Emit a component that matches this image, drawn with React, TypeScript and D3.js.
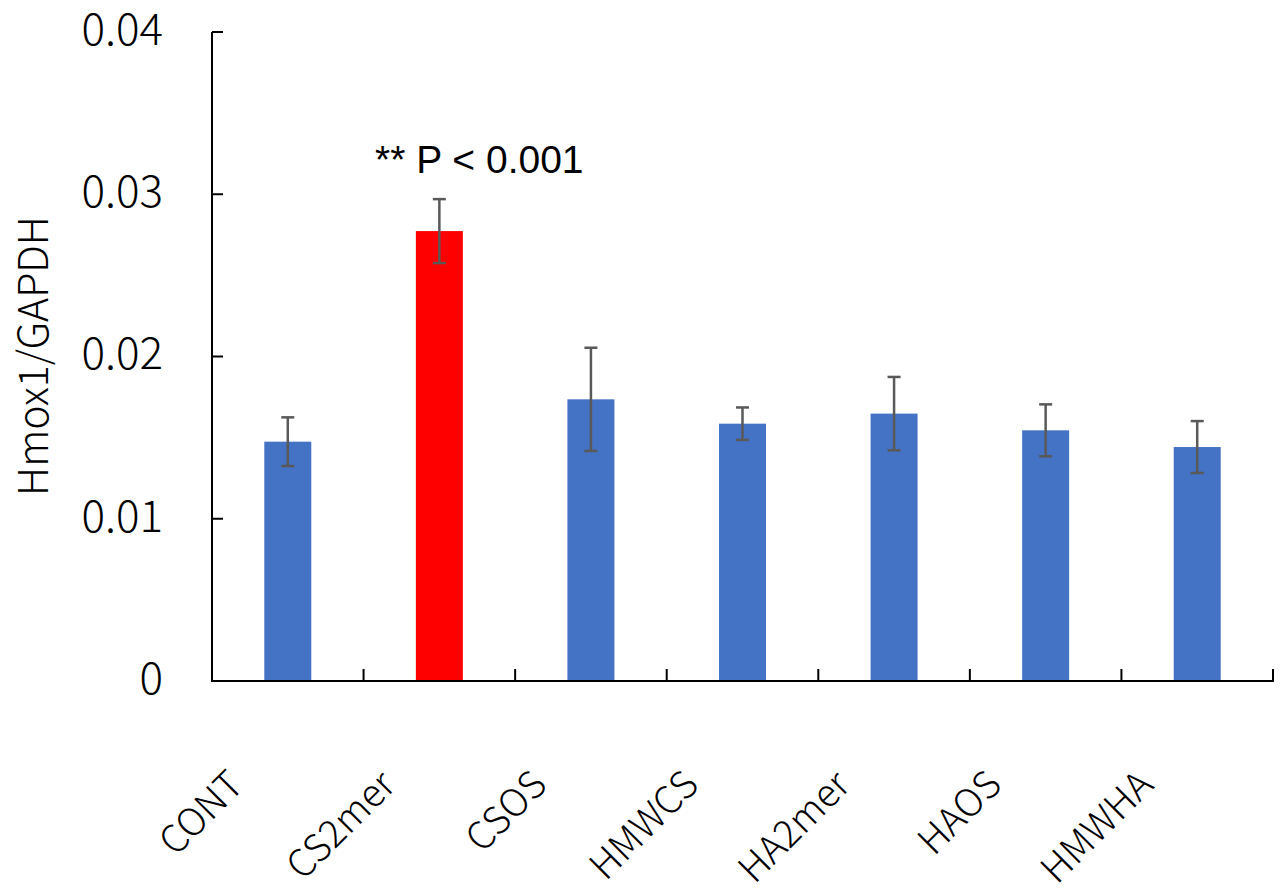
import React from 'react';
import * as d3 from 'd3';

// values
const categories = ['CONT', 'CS2mer', 'CSOS', 'HMWCS', 'HA2mer', 'HAOS', 'HMWHA'];
const means = [0.01475, 0.02773, 0.01736, 0.01586, 0.01648, 0.01545, 0.01442];
const errors = [0.0015, 0.00197, 0.00318, 0.001, 0.00226, 0.0016, 0.0016];
const highlighted = ['CS2mer'];
const yTicks = [0, 0.01, 0.02, 0.03, 0.04];
const yTickLabels = ['0', '0.01', '0.02', '0.03', '0.04'];
const annotation = '** P < 0.001';
const yTitle = 'Hmox1/GAPDH';

const W = 1283, H = 895;
const margin = { left: 212, right: 10, top: 32, bottom: 214 };
const jpFont = '"Noto Sans CJK JP", "Noto Sans", sans-serif';

export default function App() {
  const x = d3.scaleBand<string>()
    .domain(categories)
    .range([margin.left, 1273])
    .padding(0);
  const y = d3.scaleLinear()
    .domain([0, 0.04])
    .range([681, margin.top]);

  const barW = x.bandwidth() * 0.31;
  const capW = 6.5;
  const baseY = y(0);

  // tick marks on the category axis sit at band edges
  const edges = categories.map(c => x(c) as number).concat([x.range()[1]]);

  return (
    <svg width={W} height={H} style={{ position: 'absolute', left: 0, top: 0, background: '#fff' }}>
      {/* bars */}
      {categories.map((c, i) => (
        <rect key={c}
          x={(x(c) as number) + x.bandwidth() / 2 - barW / 2}
          y={y(means[i])}
          width={barW}
          height={baseY - y(means[i])}
          fill={highlighted.includes(c) ? '#FF0000' : '#4472C4'} />
      ))}

      {/* error bars */}
      {categories.map((c, i) => {
        const cx = (x(c) as number) + x.bandwidth() / 2;
        const y1 = y(means[i] + errors[i]);
        const y2 = y(means[i] - errors[i]);
        return (
          <g key={'e' + c} stroke="#595959" strokeWidth={2.5}>
            <line x1={cx} x2={cx} y1={y1} y2={y2} />
            <line x1={cx - capW} x2={cx + capW} y1={y1} y2={y1} />
            <line x1={cx - capW} x2={cx + capW} y1={y2} y2={y2} />
          </g>
        );
      })}

      {/* y axis */}
      <line x1={margin.left} x2={margin.left} y1={y(0.04)} y2={baseY + 1} stroke="#000" strokeWidth={2} />
      {yTicks.map((t, i) => (
        <g key={'yt' + t}>
          {t > 0 && <line x1={margin.left} x2={margin.left + 11} y1={y(t)} y2={y(t)} stroke="#000" strokeWidth={2} />}
          <text x={163} y={y(t) - 3} dy="0.36em" textAnchor="end"
            fontFamily={jpFont} fontWeight={300} fontSize={44} fill="#000">{yTickLabels[i]}</text>
        </g>
      ))}

      {/* x axis */}
      <line x1={margin.left - 1} x2={x.range()[1] + 1} y1={baseY} y2={baseY} stroke="#000" strokeWidth={2} />
      {edges.slice(1).map((e, i) => (
        <line key={'xt' + i} x1={e} x2={e} y1={baseY} y2={baseY - 12} stroke="#000" strokeWidth={2} />
      ))}
      {categories.map(c => {
        const cx = (x(c) as number) + x.bandwidth() / 2;
        const ax = cx - 42, ay = baseY + 106;
        return (
          <text key={'xl' + c} x={ax} y={ay} textAnchor="end"
            transform={`rotate(-45, ${ax}, ${ay})`}
            fontFamily={jpFont} fontWeight={300} fontSize={38} fill="#000">{c}</text>
        );
      })}

      {/* axis title */}
      <text transform={`translate(48, 356) rotate(-90)`} textAnchor="middle"
        fontFamily={jpFont} fontWeight={300} fontSize={41} fill="#000">{yTitle}</text>

      {/* significance note */}
      <text x={375} y={173} textAnchor="start"
        fontFamily='"Liberation Sans", Arial, sans-serif' fontSize={39} fill="#000">{annotation}</text>
    </svg>
  );
}
